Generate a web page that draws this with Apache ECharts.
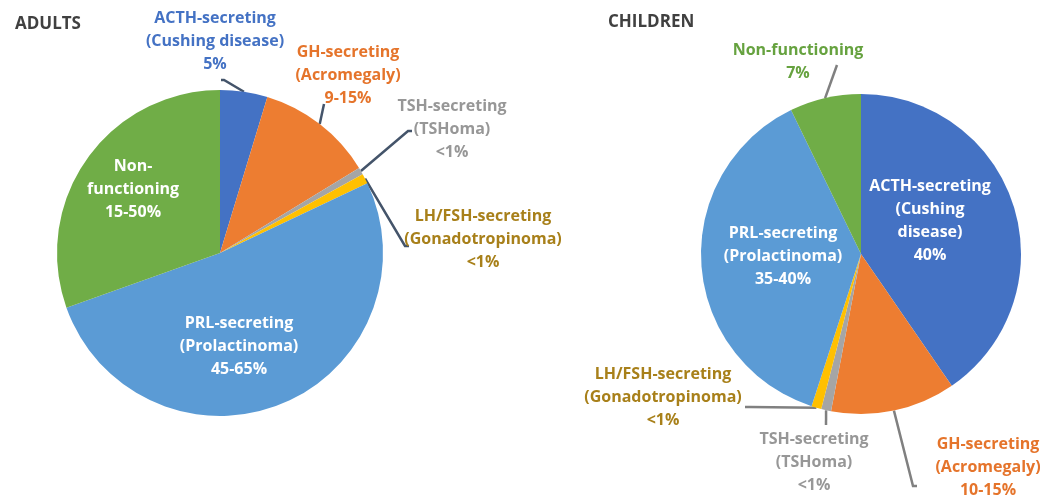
<!DOCTYPE html>
<html lang="en">
<head>
    <meta charset="UTF-8">
    <title>Pituitary adenomas</title>
    <script src="https://cdn.jsdelivr.net/npm/echarts@6/dist/echarts.min.js"></script>
    <style>
        html, body { margin: 0; padding: 0; background: #fff; }
        #chart { width: 1044px; height: 497px; }
    </style>
</head>
<body>
<div id="chart"></div>
<script>
    // data, clockwise from 12 o'clock
    var categories = ['ACTH', 'GH', 'TSH', 'LH/FSH', 'PRL', 'NF']
    var adultValues = [4.7, 11.6, 0.7, 1.0, 51.7, 30.5]
    var childValues = [40.4, 12.6, 1.0, 1.0, 37.8, 7.2]
    var adultLabels = [
        'ACTH-secreting\n(Cushing disease)\n5%',
        'GH-secreting\n(Acromegaly)\n9-15%',
        'TSH-secreting\n(TSHoma)\n<1%',
        'LH/FSH-secreting\n(Gonadotropinoma)\n<1%',
        'PRL-secreting\n(Prolactinoma)\n45-65%',
        'Non-\nfunctioning\n15-50%'
    ]
    var childLabels = [
        'ACTH-secreting\n(Cushing\ndisease)\n40%',
        'GH-secreting\n(Acromegaly)\n10-15%',
        'TSH-secreting\n(TSHoma)\n<1%',
        'LH/FSH-secreting\n(Gonadotropinoma)\n<1%',
        'PRL-secreting\n(Prolactinoma)\n35-40%',
        'Non-functioning\n7%'
    ]

    var sliceColors = ['#4472C4', '#ED7D31', '#A5A5A5', '#FFC000', '#5B9BD5', '#70AD47']

    // label layout: text centre, and line elbow / end (null = inside label, no line)
    var adultLayout = [
        {x: 215, y: 41, pts: [[224, 80], [221, 80]], color: '#4472C4'},
        {x: 348, y: 75, pts: [[324, 104], [324, 104]], color: '#E5742B'},
        {x: 452, y: 129, pts: [[408, 131], [412, 131]], color: '#979797'},
        {x: 483, y: 239, pts: [[405, 246], [409, 246]], color: '#A8801A'},
        {x: 239, y: 346, pts: null, color: '#FFFFFF'},
        {x: 133, y: 189, pts: null, color: '#FFFFFF'}
    ]
    var childLayout = [
        {x: 930, y: 221, pts: null, color: '#FFFFFF'},
        {x: 988, y: 467, pts: [[913, 486], [917, 486]], color: '#E5742B'},
        {x: 814, y: 462, pts: [[826, 425], [826, 425]], color: '#979797'},
        {x: 663, y: 397, pts: [[750, 407], [745, 407]], color: '#A8801A'},
        {x: 783, y: 256, pts: null, color: '#FFFFFF'},
        {x: 798, y: 62, pts: [[837, 65], [837, 65]], color: '#66A23F'}
    ]

    function buildData(values, labels, layout) {
        return values.map(function (v, i) {
            var inside = layout[i].pts === null
            return {
                name: categories[i],
                value: v,
                itemStyle: {color: sliceColors[i]},
                label: {
                    position: inside ? 'inside' : 'outside',
                    formatter: labels[i],
                    color: layout[i].color
                },
                labelLine: {show: !inside}
            }
        })
    }

    function makeLayout(layout) {
        return function (params) {
            var l = layout[params.dataIndex]
            var out = {x: l.x, y: l.y, align: 'center', verticalAlign: 'middle'}
            if (l.pts && params.labelLinePoints) {
                out.labelLinePoints = [params.labelLinePoints[0], l.pts[0], l.pts[1]]
            }
            return out
        }
    }

    var labelFont = {
        fontFamily: 'Open Sans',
        fontWeight: 'bold',
        fontSize: 16,
        lineHeight: 23,
        align: 'center',
        overflow: 'none',
        edgeDistance: 0
    }

    var myChart = echarts.init(document.getElementById('chart'))

    myChart.setOption({
        animation: false,
        title: [
            {text: 'ADULTS', left: 10, top: 11,
                textStyle: {color: '#404040', fontSize: 17, fontWeight: 'bold', fontFamily: 'Open Sans'}},
            {text: 'CHILDREN', left: 603, top: 9,
                textStyle: {color: '#404040', fontSize: 17, fontWeight: 'bold', fontFamily: 'Open Sans'}}
        ],
        series: [{
            type: 'pie',
            center: [220, 253],
            radius: 163,
            startAngle: 90,
            clockwise: true,
            silent: true,
            label: labelFont,
            labelLine: {lineStyle: {color: '#44546A', width: 2.5}, smooth: false},
            labelLayout: makeLayout(adultLayout),
            data: buildData(adultValues, adultLabels, adultLayout)
        }, {
            type: 'pie',
            center: [861, 254],
            radius: 160,
            startAngle: 90,
            clockwise: true,
            silent: true,
            label: labelFont,
            labelLine: {lineStyle: {color: '#808080', width: 2.5}, smooth: false},
            labelLayout: makeLayout(childLayout),
            data: buildData(childValues, childLabels, childLayout)
        }]
    })
</script>
</body>
</html>
